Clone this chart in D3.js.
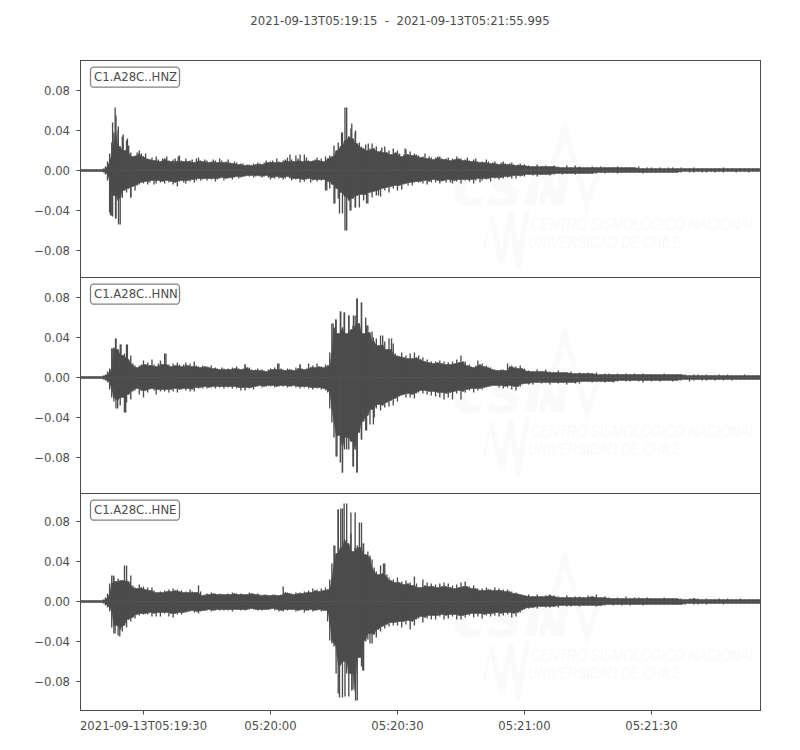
<!DOCTYPE html>
<html><head><meta charset="utf-8">
<script src="https://cdn.jsdelivr.net/npm/d3@7"></script>
<style>html,body{margin:0;background:#fff}svg{display:block}text{font-family:"DejaVu Sans",sans-serif;fill:#4c4c4c}</style>
</head><body><svg id="c" width="800" height="750"></svg>
<script>
// Envelope amplitudes, in thousandths of the y unit. Head arrays: one value per half second from trace start.
const zUpperHead=[1,1,1,1,1,1,1,1,1,1, 1,2,4,9,17,28,38,55,40,24, 34,20,30,25,18,14,15,18,20,17, 14,17,12,11,13,10,14,11,9,12, 12,14,10,9,11,12,9,15,10,9, 12,9,10,11,8,12,13,10,9,11, 10,8,9,11,10,8,12,10,8,9, 11,8,7,9,8,6,7,7,5,6, 6,5,7,6,8,7,6,8,10,8, 9,10,8,12,9,8,10,11,13,9, 11,9,15,12,10,9,16,13,10,9, 10,11,13,10,12,9,14,12,15,14, 25,20,28,24,38,30,63,34,42,32, 38,27,28,24,22,26,20,22,27,22, 24,19,20,18,24,18,20,16,22,18, 20,17,14,16,21,16,19,15,17,16, 15,13,14,17,12,14,13,11,13,14, 14,12,11,12,13,10,12,11,14,12, 12,10,11,13,10,9,11,12,9,8, 9,8,11,9,7,8,9,7,6,8, 9,7,6,7,8,6,5,6,7,5];
const zLowerHead=[-1,-1,-1,-1,-1,-1,-1,-1,-1,-1, -1,-2,-4,-10,-42,-45,-25,-48,-30,-54, -27,-20,-22,-18,-27,-16,-20,-15,-14,-12, -13,-11,-14,-12,-10,-14,-13,-10,-12,-11, -13,-10,-12,-11,-14,-12,-16,-11,-10,-12, -13,-10,-11,-9,-12,-10,-8,-10,-9,-8, -10,-8,-9,-8,-11,-9,-8,-7,-10,-8, -8,-7,-9,-7,-6,-8,-7,-6,-6,-5, -6,-5,-7,-6,-5,-6,-7,-6,-5,-7, -9,-7,-8,-6,-8,-7,-9,-8,-6,-8, -10,-8,-9,-8,-12,-9,-11,-9,-8,-12, -10,-9,-11,-9,-10,-9,-20,-11,-18,-14, -33,-18,-28,-22,-43,-26,-60,-30,-40,-28, -37,-25,-37,-24,-30,-24,-33,-22,-27,-21, -25,-20,-26,-18,-20,-17,-22,-16,-18,-15, -20,-15,-19,-14,-13,-15,-12,-15,-12,-11, -12,-11,-13,-10,-14,-11,-12,-9,-12,-10, -13,-11,-10,-12,-9,-12,-13,-10,-11,-9, -13,-9,-10,-9,-11,-9,-13,-10,-8,-12, -10,-8,-9,-8,-11,-7,-8,-7,-9,-7, -8,-6,-7,-6,-8,-5,-8,-5,-6,-5];
const nUpperHead=[1,1,1,1,1,1,1,1,1,1, 1,2,3,6,9,29,30,39,28,33, 22,24,33,18,22,14,12,10,12,13, 17,13,15,12,18,13,11,14,17,13, 24,13,13,11,14,12,15,13,11,13, 15,12,14,11,16,12,11,10,12,11, 11,10,12,9,10,9,8,10,9,8, 9,8,10,9,11,9,8,9,13,10, 10,8,7,8,9,7,8,7,6,8, 9,8,10,8,14,9,8,7,9,8, 8,7,10,9,13,9,8,9,14,10, 12,10,14,11,11,10,13,12,25,54, 50,58,44,66,50,65,44,62,48,52, 62,79,54,75,44,60,52,45,46,36, 39,32,42,33,36,28,39,28,34,24, 22,21,25,20,22,19,24,19,25,20, 22,18,20,16,18,15,16,14,16,15, 17,14,16,13,15,13,16,14,18,15, 22,16,16,12,13,11,10,12,17,13, 14,11,12,10,10,8,8,7,7,8, 8,7,14,11,12,10,11,9,12,9];
const nLowerHead=[-1,-1,-1,-1,-1,-1,-1,-1,-1,-1, -1,-2,-3,-5,-12,-20,-24,-31,-22,-28, -20,-35,-25,-17,-22,-14,-13,-11,-17,-13, -20,-13,-15,-12,-11,-13,-17,-12,-14,-12, -14,-12,-15,-12,-14,-11,-15,-12,-12,-11, -13,-11,-14,-12,-14,-10,-11,-10,-11,-9, -11,-10,-10,-9,-11,-9,-10,-9,-11,-9, -10,-9,-11,-9,-11,-10,-13,-10,-13,-10, -11,-10,-12,-9,-9,-8,-10,-9,-9,-8, -9,-8,-10,-9,-9,-8,-9,-8,-10,-9, -9,-8,-10,-9,-11,-9,-10,-9,-11,-10, -12,-10,-11,-10,-12,-11,-13,-15,-31,-45, -60,-79,-58,-85,-95,-72,-60,-72,-64,-89, -72,-95,-55,-62,-44,-53,-38,-47,-32,-40, -31,-27,-33,-28,-30,-25,-29,-23,-28,-21, -24,-19,-18,-17,-20,-16,-20,-17,-21,-16, -15,-13,-16,-13,-17,-14,-18,-14,-19,-15, -20,-15,-22,-16,-20,-15,-22,-14,-16,-13, -22,-14,-15,-12,-13,-11,-15,-11,-13,-11, -12,-10,-10,-9,-9,-8,-8,-8,-10,-8, -11,-9,-10,-8,-12,-9,-13,-9,-9,-7];
const eUpperHead=[1,1,1,1,1,1,1,1,1,1, 1,2,4,8,18,26,25,20,23,21, 21,36,22,20,26,16,14,13,17,14, 15,12,14,11,14,11,9,9,10,9, 11,10,12,10,13,11,12,10,11,9, 10,9,12,10,9,9,16,10,6,7, 8,7,9,8,8,7,8,7,7,7, 8,7,9,8,8,7,8,7,7,7, 9,8,8,7,8,7,6,7,7,6, 6,7,7,6,6,7,15,9,9,8, 8,7,9,8,9,8,10,9,11,9, 13,11,12,10,13,11,14,12,22,38, 56,48,92,54,93,62,98,58,68,50, 89,56,54,79,58,47,50,46,42,34, 30,27,36,28,38,27,24,21,22,19, 24,19,20,17,21,18,19,16,25,18, 14,14,22,16,19,15,18,15,17,14, 18,15,19,15,18,14,16,13,17,14, 19,15,20,15,15,13,16,13,13,11, 13,11,14,12,12,11,14,11,13,11, 12,10,12,10,10,8,9,8,7,7];
const eLowerHead=[-1,-1,-1,-1,-1,-1,-1,-1,-1,-1, -1,-2,-4,-6,-10,-26,-32,-24,-34,-28, -30,-24,-26,-18,-20,-16,-17,-13,-14,-12, -13,-12,-13,-11,-15,-12,-15,-11,-15,-11, -12,-11,-15,-12,-16,-12,-13,-11,-13,-11, -11,-10,-10,-9,-11,-10,-12,-10,-9,-9, -9,-8,-10,-9,-9,-8,-9,-8,-9,-8, -9,-8,-10,-8,-8,-8,-9,-8,-9,-8, -8,-7,-8,-8,-9,-8,-9,-8,-8,-8, -8,-7,-9,-8,-10,-9,-10,-8,-9,-8, -8,-8,-10,-9,-9,-8,-11,-9,-9,-8, -10,-9,-9,-8,-10,-9,-9,-20,-39,-42, -45,-72,-92,-64,-96,-60,-72,-95,-72,-88, -90,-99,-56,-65,-69,-40,-38,-32,-42,-33, -36,-28,-30,-25,-27,-23,-25,-21,-24,-21, -24,-20,-26,-20,-23,-19,-28,-20,-24,-18, -17,-15,-21,-16,-17,-14,-18,-14,-18,-14, -15,-13,-18,-14,-17,-13,-15,-13,-18,-14, -18,-14,-16,-13,-14,-12,-16,-12,-15,-12, -17,-13,-14,-12,-15,-12,-14,-11,-15,-12, -14,-11,-13,-11,-16,-12,-15,-11,-11,-9];
// Tail arrays: one value per second, continuing after the head.
const zUpperTail=[6,5,4,6,4, 5,4,5,4,3,5,3,5,4,3, 3,4,3,4,3,3,3,4,3,3, 3,3,4,2,3,3,2,3,2,3, 3,2,3,2,2,3,2,2,2,2, 2,2,3,2,2,2,2,2,2,2,2,2];
const zLowerTail=[-6,-4,-5,-6,-4, -4,-5,-4,-3,-4,-3,-3,-4,-3,-3, -3,-3,-3,-2,-3,-2,-2,-3,-2,-2, -2,-2,-2,-3,-2,-2,-2,-2,-2,-2, -2,-2,-2,-1,-2,-2,-1,-2,-2,-1, -2,-1,-2,-1,-1,-2,-1,-1,-2,-1,-1,-1];
const nUpperTail=[9,7,6,8,6, 8,6,5,7,5,5,6,4,5,4, 5,4,5,3,4,4,3,4,3,4, 3,4,3,4,3,3,3,3,4,3, 3,3,3,3,2,3,3,2,3,2, 2,3,2,3,2,2,2,3,2,2,2,2];
const nLowerTail=[-6,-7,-7,-5,-6, -5,-7,-5,-6,-5,-7,-5,-6,-6,-4, -4,-5,-4,-4,-5,-4,-5,-4,-3,-4, -4,-3,-4,-5,-3,-4,-3,-4,-3,-3, -4,-3,-3,-2,-4,-3,-2,-3,-3,-2, -3,-2,-3,-2,-3,-2,-2,-2,-2,-2,-2,-2];
const eUpperTail=[6,7,5,7,5, 6,7,6,5,4,6,4,5,5,4, 6,5,7,4,5,4,3,4,3,5, 3,4,4,3,4,3,3,3,4,3, 3,3,3,2,3,3,3,2,3,2, 2,3,2,3,2,2,3,2,2,2,2,2];
const eLowerTail=[-8,-7,-6,-7,-5, -6,-6,-5,-6,-4,-5,-5,-4,-5,-4, -4,-4,-5,-4,-4,-3,-4,-3,-4,-3, -4,-3,-3,-4,-3,-3,-3,-3,-3,-3, -3,-3,-3,-3,-2,-3,-3,-2,-3,-2, -2,-2,-3,-2,-2,-2,-2,-2,-2,-2,-2,-2];
// Individual narrow peaks: seconds from trace start, and peak amplitude.
const zSpikeT=[8.3,7.7,9.05,10.2,11.2,62.6,61.8,64.2,65.1,68.1,71.3,76.8,23.2,49.6,52,7.2,7.7,8.4,9.1,10,12,58.3,61.3,60.2,62.6,63.8,65.1,67.7,70.5];
const zSpikeA=[63,48,44,36,32,63,38,47,40,27,23,22,14,16,16,-45,-46,-48,-54,-27,-27,-20,-43,-33,-60,-40,-37,-33,-25];
const nSpikeT=[7.6,8.4,9.7,11.2,20.3,39,46.7,52,59.8,60.4,61.6,62.4,63.5,64.6,65.4,66.5,67.7,69.3,71.5,73.6,8.9,10.8,60.7,62,63,64.6,65.4,66.5,67.7,69.3];
const nSpikeA=[29,39,33,33,24,13,14,13,54,58,66,65,62,62,79,75,52,40,42,39,-31,-35,-79,-95,-72,-89,-95,-62,-53,-47];
const eSpikeT=[7.9,11,60.2,61,61.6,62.4,64,65,66,66.9,68.5,71.7,8.3,9.4,61.3,62.6,64.2,65.1,66.8,68.5];
const eSpikeA=[26,36,56,92,93,98,89,54,79,58,44,38,-32,-35,-96,-95,-89,-99,-69,-42];
const channels=["C1.A28C..HNZ","C1.A28C..HNN","C1.A28C..HNE"];
const yTickValues=[-80,-40,0,40,80];
const yDomains=[[-107,110],[-116,100],[-109,108]];
const timeTicks=["2021-09-13T05:19:30Z","2021-09-13T05:20:00Z","2021-09-13T05:20:30Z","2021-09-13T05:21:00Z","2021-09-13T05:21:30Z"];
const traceStart="2021-09-13T05:19:15Z", traceEnd="2021-09-13T05:21:55.995Z";
const title="2021-09-13T05:19:15  -  2021-09-13T05:21:55.995";

const ink="#4c4c4c", fs=11.67;
const svg=d3.select("#c");
const join=(head,tail)=>head.map((v,k)=>[k/2,v]).concat(tail.map((v,k)=>[head.length/2+k,v]));
// Solid core under the sticks: the smallest neighbouring amplitude, so each sample stands up as a narrow stick.
const coreOf=s=>s.map((d,k)=>{const n=[s[k-1],d,s[k+1]].filter(Boolean).map(e=>e[1]);
  return [d[0],d3.least(n,v=>Math.abs(v))];});
const panels=[{up:join(zUpperHead,zUpperTail),lo:join(zLowerHead,zLowerTail),st:zSpikeT,sa:zSpikeA,top:60.5,bot:277.5},
              {up:join(nUpperHead,nUpperTail),lo:join(nLowerHead,nLowerTail),st:nSpikeT,sa:nSpikeA,top:277.5,bot:493.5},
              {up:join(eUpperHead,eUpperTail),lo:join(eLowerHead,eLowerTail),st:eSpikeT,sa:eSpikeA,top:493.5,bot:710.5}];
const t0=new Date(traceStart);
const toDate=s=>new Date(+t0+s*1000);
const x=d3.scaleUtc().domain([t0,new Date(traceEnd)]).range([80,761.5]);

svg.append("defs").append("clipPath").attr("id","plot").append("rect").attr("x",80.5).attr("y",0).attr("width",680).attr("height",750);
svg.append("text").attr("x",400).attr("y",25).attr("text-anchor","middle")
   .attr("font-size",fs).style("white-space","pre").text(title);

panels.forEach((p,i)=>{
  const y=d3.scaleLinear().domain(yDomains[i]).range([p.bot,p.top]);
  const g=svg.append("g");
  const zero=y(0), wm=g.append("g").attr("transform",`translate(0,${zero-170.5})`).attr("fill","none").attr("stroke","#fafafa");
  wm.append("path").attr("stroke-width",6).attr("d","M541,205L565,128L587,205L600,168");
  wm.append("path").attr("stroke-width",2).attr("d","M484,250L491,216");
  wm.append("path").attr("stroke-width",6).attr("d","M491,216L502,262L511,212L518,268L527,210");
  wm.append("text").attr("x",452).attr("y",205).attr("font-size",60).attr("font-style","italic").attr("font-weight","bold").attr("stroke","none").style("fill","#fafafa").text("csN");
  wm.append("text").attr("transform","translate(531,230) scale(0.78,1)").attr("font-size",17).attr("font-style","italic").attr("stroke","none").style("font-family","'Liberation Sans'").style("fill","#f9f9f9").text("CENTRO SISMOLÓGICO NACIONAL");
  wm.append("text").attr("transform","translate(528,248) scale(0.77,1)").attr("font-size",17).attr("font-style","italic").attr("stroke","none").style("font-family","'Liberation Sans'").style("fill","#f9f9f9").text("UNIVERSIDAD DE CHILE");

  const tr=g.append("g").attr("clip-path","url(#plot)");
  const area=d3.area().x(d=>x(toDate(d[0]))).y0(y(0)).y1(d=>y(d[1]));
  [p.up,p.lo].forEach(s=>{
    tr.append("path").datum(coreOf(s)).attr("d",area).attr("fill",ink).attr("stroke",ink).attr("stroke-width",0.4);
    tr.append("g").selectAll("line").data(s).join("line")
      .attr("x1",d=>x(toDate(d[0]))).attr("x2",d=>x(toDate(d[0])))
      .attr("y1",y(0)).attr("y2",d=>y(d[1]))
      .attr("stroke",ink).attr("stroke-width",1.35);
  });
  tr.selectAll("line.spike").data(p.st).join("line").attr("class","spike")
    .attr("x1",d=>x(toDate(d))).attr("x2",d=>x(toDate(d)))
    .attr("y1",y(0)).attr("y2",(d,k)=>y(p.sa[k]))
    .attr("stroke",ink).attr("stroke-width",1.35);

  g.append("rect").attr("x",80.5).attr("y",p.top).attr("width",680).attr("height",p.bot-p.top)
    .attr("fill","none").attr("stroke",ink).attr("stroke-width",1);

  const ay=d3.axisLeft(y).tickValues(yTickValues).tickSize(4).tickPadding(6.5).offset(0)
    .tickFormat(d=>(d<0?"\u2212":"")+(Math.abs(d)/1000).toFixed(2));
  const ga=g.append("g").attr("transform","translate(80.5,0)").call(ay);
  ga.select(".domain").remove();
  ga.selectAll("line").attr("stroke",ink);
  ga.selectAll("text").attr("font-size",fs).attr("font-family",null).attr("dy","0.4em");

  const bx=g.append("g").attr("transform",`translate(0,${p.top})`);
  bx.append("rect").attr("x",90.5).attr("y",6.7).attr("width",89).attr("height",20).attr("rx",3.5)
    .attr("fill","#fff").attr("stroke","#808080").attr("stroke-width",1.3);
  bx.append("text").attr("x",94).attr("y",20.6).attr("font-size",fs).text(channels[i]);

  if(i===2){
    const ax=d3.axisBottom(x).tickValues(timeTicks.map(d=>new Date(d))).tickSize(4).tickPadding(7).offset(0)
      .tickFormat((d,k)=>k===0?d3.utcFormat("%Y-%m-%dT%H:%M:%S")(d):d3.utcFormat("%H:%M:%S")(d));
    const gx=g.append("g").attr("transform",`translate(0,${p.bot})`).call(ax);
    gx.select(".domain").remove();
    gx.selectAll("line").attr("stroke",ink);
    gx.selectAll("text").attr("font-size",fs).attr("font-family",null);
  }
});
</script></body></html>
